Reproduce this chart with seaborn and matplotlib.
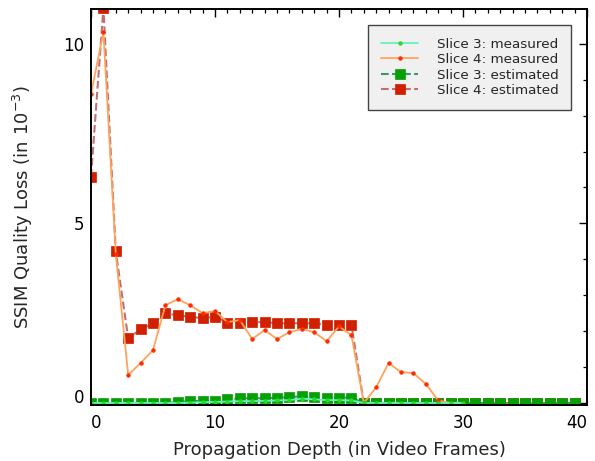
import numpy as np
import pandas as pd
import matplotlib
matplotlib.use("Agg")
import matplotlib.pyplot as plt
from matplotlib.ticker import MultipleLocator
import seaborn as sns

# ---- data ----
frames_est = list(range(0, 40))
frames_meas = list(range(0, 31))

slice4_est = [6.3, 11.0, 4.22, 1.8, 2.05, 2.22, 2.5, 2.44, 2.4, 2.36,
              2.4, 2.24, 2.24, 2.25, 2.25, 2.22, 2.22, 2.22, 2.22, 2.17,
              2.17, 2.17, 0.0, 0.0, 0.0, 0.0, 0.0, 0.0, 0.0, 0.0,
              0.0, 0.0, 0.0, 0.0, 0.0, 0.0, 0.0, 0.0, 0.0, 0.0]
slice3_est = [0.0, 0.0, 0.0, 0.0, 0.0, 0.0, 0.0, 0.02, 0.06, 0.05,
              0.06, 0.1, 0.13, 0.13, 0.13, 0.15, 0.16, 0.19, 0.16, 0.15,
              0.15, 0.15, 0.0, 0.0, 0.0, 0.0, 0.0, 0.0, 0.0, 0.0,
              0.0, 0.0, 0.0, 0.0, 0.0, 0.0, 0.0, 0.0, 0.0, 0.0]
slice4_meas = [8.6, 10.33, 4.15, 0.78, 1.11, 1.47, 2.72, 2.89, 2.72, 2.5,
               2.56, 2.25, 2.31, 1.78, 2.03, 1.78, 1.97, 2.06, 1.97, 1.72,
               2.13, 1.89, 0.0, 0.44, 1.11, 0.86, 0.83, 0.53, 0.07, 0.0,
               0.0]
slice3_meas = [0.0, 0.0, 0.0, 0.0, 0.0, 0.0, 0.0, 0.0, 0.01, 0.02,
               0.03, 0.04, 0.05, 0.05, 0.06, 0.07, 0.08, 0.12, 0.1, 0.08,
               0.08, 0.07, 0.0, 0.0, 0.0, 0.0, 0.0, 0.0, 0.0, 0.0,
               0.0]

labels = ["Slice 3: measured", "Slice 4: measured",
          "Slice 3: estimated", "Slice 4: estimated"]
x_ticks = [0, 10, 20, 30, 40]
y_ticks = [0, 5, 10]

df_est = pd.DataFrame({"frame": frames_est, "s3": slice3_est, "s4": slice4_est})
df_meas = pd.DataFrame({"frame": frames_meas, "s3": slice3_meas, "s4": slice4_meas})

sns.set_style("white")
plt.rcParams["font.family"] = ["DejaVu Sans"]

fig = plt.figure(figsize=(5.95, 4.61), dpi=100)
ax = fig.add_axes([91 / 595, 1 - 405.3 / 461, (587 - 91) / 595, (405.3 - 9) / 461])

# estimated (drawn first: red under green)
sns.lineplot(data=df_est, x="frame", y="s4", ax=ax, color="#c07070",
             linestyle="--", linewidth=1.5, marker="s", markersize=7.8,
             markerfacecolor="#d02000", markeredgecolor="#d02000",
             markeredgewidth=0.5, label=labels[3], zorder=2.0)
sns.lineplot(data=df_est, x="frame", y="s3", ax=ax, color="#3a9670",
             linestyle="--", linewidth=1.5, marker="s", markersize=7.8,
             markerfacecolor="#06a006", markeredgecolor="#06a006",
             markeredgewidth=0.5, label=labels[2], zorder=2.1)
# measured
sns.lineplot(data=df_meas, x="frame", y="s4", ax=ax, color="#ffa35c",
             linestyle="-", linewidth=1.3, marker="o", markersize=2.6,
             markerfacecolor="#ff2a00", markeredgecolor="#ff2a00",
             markeredgewidth=0.5, label=labels[1], zorder=2.2)
sns.lineplot(data=df_meas, x="frame", y="s3", ax=ax, color="#66f0c0",
             linestyle="-", linewidth=1.3, marker="o", markersize=2.6,
             markerfacecolor="#22dd22", markeredgecolor="#22dd22",
             markeredgewidth=0.5, label=labels[0], zorder=2.3)

ax.set_xlim(0, 40)
ax.set_ylim(-0.065, 10.97)
ax.set_xticks(x_ticks)
ax.set_yticks(y_ticks)
ax.xaxis.set_minor_locator(MultipleLocator(1))
ax.yaxis.set_minor_locator(MultipleLocator(1))
ax.tick_params(which="both", direction="in", top=True, right=True,
               colors="black")
ax.tick_params(which="major", length=6, width=1.0, labelsize=12)
ax.tick_params(axis="x", which="major", pad=6)
ax.tick_params(axis="y", which="major", pad=5)
ax.tick_params(which="minor", length=3, width=0.9)

for s in ax.spines.values():
    s.set_visible(True)
    s.set_color("black")
    s.set_linewidth(1.4)

xl = ax.get_xticklabels()
xl[0].set_ha("left")
xl[-1].set_ha("right")
yl = ax.get_yticklabels()
yl[0].set_va("baseline")

ax.set_xlabel("Propagation Depth (in Video Frames)", fontsize=13, labelpad=7)
ax.set_ylabel("SSIM Quality Loss (in 10$^{-3}$)", fontsize=13, labelpad=20)

handles, labs = ax.get_legend_handles_labels()
order = [labs.index(l) for l in labels]
leg = ax.legend([handles[i] for i in order], [labs[i] for i in order],
                loc="upper right", bbox_to_anchor=(0.968, 0.96),
                borderaxespad=0, fontsize=9.7, frameon=True, fancybox=False,
                facecolor="#f0f0f0", edgecolor="#444444", framealpha=1,
                handlelength=2.8, labelspacing=0.18, borderpad=0.95,
                handletextpad=1.35)
leg.get_frame().set_linewidth(1.0)

fig.savefig("out.png", dpi=100)
